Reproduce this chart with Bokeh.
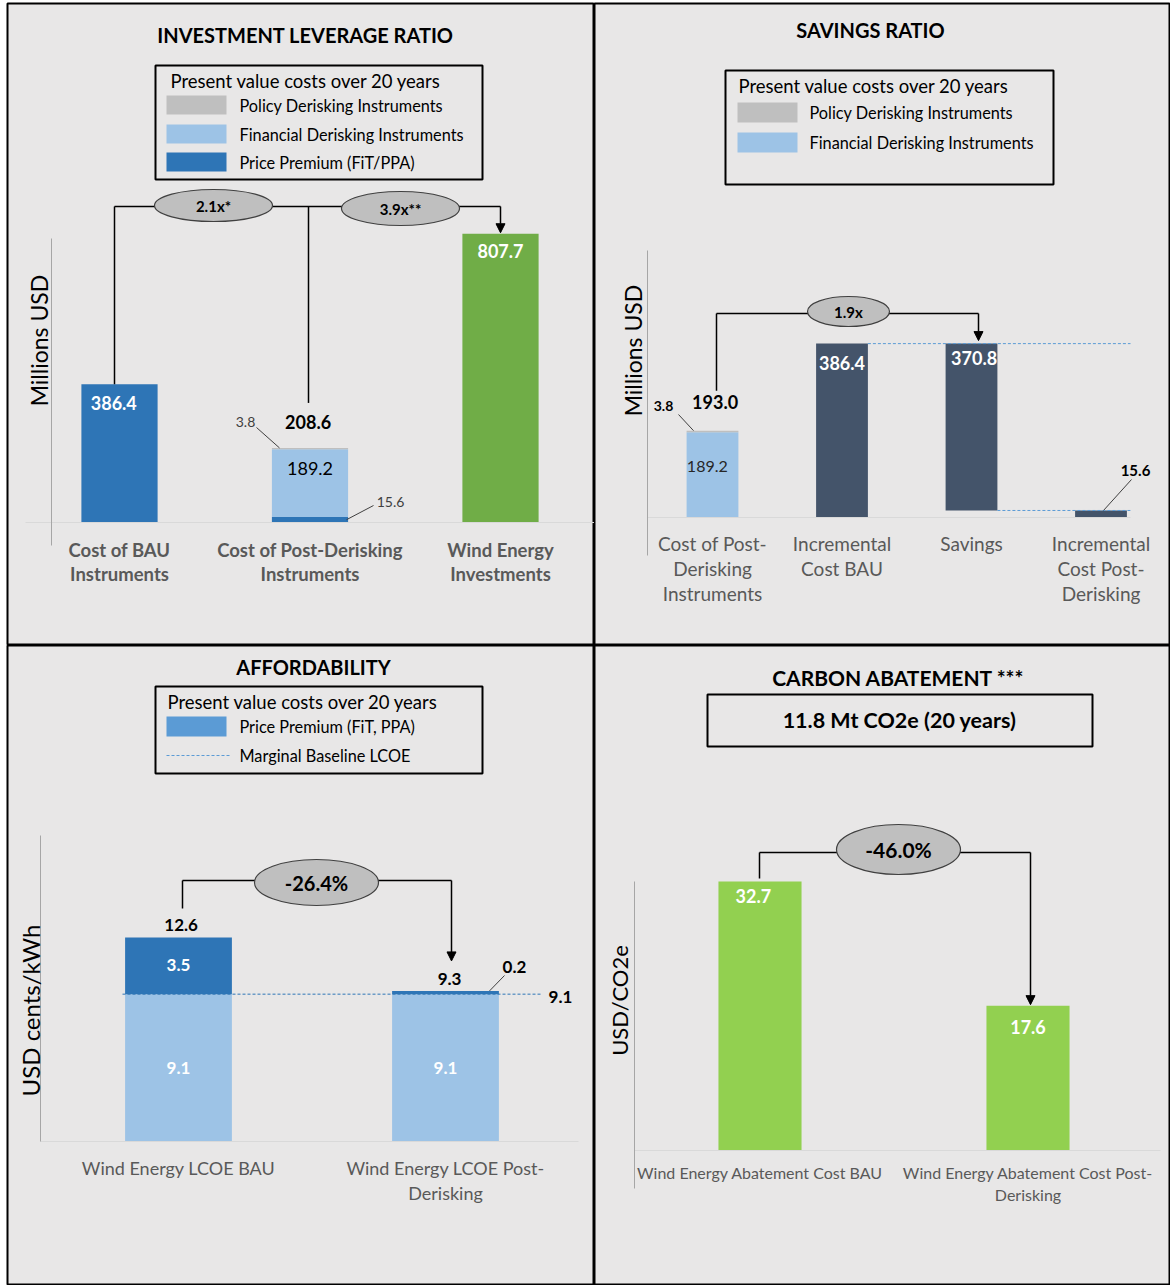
import numpy as np
from math import pi
from bokeh.plotting import figure
from bokeh.layouts import gridplot
from bokeh.models import Range1d, Arrow, NormalHead
from bokeh.core.properties import value
from bokeh.embed import file_html
from bokeh.resources import INLINE

# ---------------- DATA ----------------
# Panel 1: Investment leverage ratio (Millions USD)
p1_categories = [["Cost of BAU", "Instruments"],
                 ["Cost of Post-Derisking", "Instruments"],
                 ["Wind Energy", "Investments"]]
p1_price_premium = [386.4, 15.6, 0.0]
p1_financial = [0.0, 189.2, 0.0]
p1_policy = [0.0, 3.8, 0.0]
p1_investment = [0.0, 0.0, 807.7]
p1_ratios = ["2.1x*", "3.9x**"]
p1_legend = ["Policy Derisking Instruments", "Financial Derisking Instruments", "Price Premium (FiT/PPA)"]

# Panel 2: Savings ratio (Millions USD)
p2_categories = [["Cost of Post-", "Derisking", "Instruments"],
                 ["Incremental", "Cost BAU"],
                 ["Savings"],
                 ["Incremental", "Cost Post-", "Derisking"]]
p2_financial = [189.2]
p2_policy = [3.8]
p2_incremental_bau = 386.4
p2_savings = 370.8
p2_incremental_post = 15.6
p2_ratio = "1.9x"
p2_legend = ["Policy Derisking Instruments", "Financial Derisking Instruments"]

# Panel 3: Affordability (USD cents/kWh)
p3_categories = [["Wind Energy LCOE BAU"], ["Wind Energy LCOE Post-", "Derisking"]]
p3_baseline = [9.1, 9.1]
p3_premium = [3.5, 0.2]
p3_marginal_lcoe = 9.1
p3_change = "-26.4%"
p3_legend = ["Price Premium (FiT, PPA)", "Marginal Baseline LCOE"]

# Panel 4: Carbon abatement (USD/CO2e)
p4_categories = [["Wind Energy Abatement Cost BAU"], ["Wind Energy Abatement Cost Post-", "Derisking"]]
p4_values = [32.7, 17.6]
p4_change = "-46.0%"
p4_total = "11.8 Mt CO2e (20 years)"

# ---------------- STYLE ----------------
FONT = "Lato"
BG = "#E8E7E7"
DARK_BLUE = "#2E75B6"
LIGHT_BLUE = "#9DC3E6"
MID_BLUE = "#5B9BD5"
GRAY = "#BFBFBF"
GREEN = "#70AD47"
LIME = "#92D050"
NAVY = "#44546A"
LABEL_GRAY = "#595959"
AXIS_GRAY = "#A6A6A6"
TITLE_SIZE = 20
HEADER_SIZE = 18.5
LEGEND_SIZE = 16.3


class Frame:
    """Maps page pixels to the data space of one panel."""
    def __init__(self, left, top, fw, fh, cx0, dx, base, ppu):
        self.cx0, self.dx, self.base, self.ppu = cx0, dx, base, ppu
        self.xr = (self.X(left), self.X(left + fw))
        self.yr = (self.Y(top + fh), self.Y(top))

    def X(self, px):
        return (px - self.cx0) / self.dx

    def Y(self, py):
        return (self.base - py) / self.ppu

    def W(self, w):
        return w / self.dx

    def H(self, h):
        return h / self.ppu


def make_fig(fr, width, height, bl, bt):
    p = figure(width=width, height=height, x_range=Range1d(*fr.xr), y_range=Range1d(*fr.yr),
               output_backend="svg", toolbar_location=None, x_axis_type=None, y_axis_type=None,
               min_border=0)
    p.min_border_left = bl
    p.min_border_top = bt
    p.background_fill_color = BG
    p.border_fill_color = "white"
    p.outline_line_color = "black"
    p.outline_line_width = 2
    return p


def txt(p, x, y, s, size, color="black", bold=False, align="center", angle=0.0, baseline="middle"):
    p.text(x=[x], y=[y], text=[s], text_font=value(FONT), text_font_size=f"{size}px",
           text_font_style="bold" if bold else "normal", text_color=color,
           text_align=align, text_baseline=baseline, angle=angle)


def seg(p, x0, y0, x1, y1, color="black", width=1.5, dash="solid"):
    p.segment(x0=[x0], y0=[y0], x1=[x1], y1=[y1], line_color=color, line_width=width, line_dash=dash)


def box(p, fr, l, t, r, b, fill=None, line="black", lw=2):
    p.quad(left=[fr.X(l)], right=[fr.X(r)], top=[fr.Y(t)], bottom=[fr.Y(b)],
           fill_color=fill, line_color=line, line_width=lw)


def arrow(p, x0, y0, x1, y1):
    p.add_layout(Arrow(end=NormalHead(size=9, fill_color="black", line_color="black"),
                       x_start=x0, y_start=y0, x_end=x1, y_end=y1,
                       line_color="black", line_width=1.5))


def ellipse_label(p, fr, cx, cy, w, h, s, size):
    p.ellipse(x=[fr.X(cx)], y=[fr.Y(cy)], width=[fr.W(w)], height=[fr.H(h)],
              fill_color=GRAY, line_color="#404040", line_width=1.2)
    txt(p, fr.X(cx), fr.Y(cy), s, size, bold=True)


def categories(p, fr, cats, ys, size, bold=False):
    for i, lines in enumerate(cats):
        for j, line in enumerate(lines):
            txt(p, i, fr.Y(ys[j]), line, size, color=LABEL_GRAY, bold=bold)


# ================= PANEL 1 =================
fr1 = Frame(left=7, top=3, fw=587, fh=642, cx0=119, dx=190.5, base=522, ppu=0.3575)
p1 = make_fig(fr1, 594, 645, 7, 3)
x1 = np.arange(len(p1_categories))
pp = np.array(p1_price_premium)
fin = np.array(p1_financial)
pol = np.array(p1_policy)
inv = np.array(p1_investment)
bw1 = 0.4
p1.vbar(x=x1, bottom=0, top=pp, width=bw1, fill_color=DARK_BLUE, line_color=None)
p1.vbar(x=x1, bottom=pp, top=pp + fin, width=bw1, fill_color=LIGHT_BLUE, line_color=None)
p1.vbar(x=x1, bottom=pp + fin, top=pp + fin + pol, width=bw1, fill_color=GRAY, line_color=None)
p1.vbar(x=x1, bottom=0, top=inv, width=bw1, fill_color=GREEN, line_color=None)
# axis lines
seg(p1, fr1.X(25), 0, fr1.X(594), 0, color="#D9D9D9", width=1)
seg(p1, fr1.X(51), fr1.Y(238), fr1.X(51), fr1.Y(545), color=AXIS_GRAY, width=1)
txt(p1, fr1.X(38), fr1.Y(340), "Millions USD", 23, angle=pi / 2)
# title & legend
txt(p1, fr1.X(305), fr1.Y(34), "INVESTMENT LEVERAGE RATIO", TITLE_SIZE, bold=True)
box(p1, fr1, 155, 65, 482, 179)
txt(p1, fr1.X(170), fr1.Y(80), "Present value costs over 20 years", HEADER_SIZE, align="left")
for (t, b, c), lab in zip([(95, 114, GRAY), (124, 143, LIGHT_BLUE), (152, 171, DARK_BLUE)], p1_legend):
    box(p1, fr1, 166, t, 226, b, fill=c, line=None, lw=0)
    txt(p1, fr1.X(239), fr1.Y((t + b) / 2), lab, LEGEND_SIZE, align="left")
# connectors
top_bau = pp[0] + fin[0] + pol[0]
top_post = pp[1] + fin[1] + pol[1]
ytop1 = fr1.Y(206)
seg(p1, fr1.X(114), top_bau, fr1.X(114), ytop1)
seg(p1, fr1.X(308), ytop1, fr1.X(308), top_post + fr1.H(45))
seg(p1, fr1.X(114), ytop1, fr1.X(500), ytop1)
arrow(p1, fr1.X(500), ytop1, fr1.X(500), inv[2] + fr1.H(1))
ellipse_label(p1, fr1, 213, 205, 118, 32, p1_ratios[0], 15)
ellipse_label(p1, fr1, 400, 208, 118, 34, p1_ratios[1], 15)
# value labels
txt(p1, x1[0] - 0.03, top_bau - fr1.H(19), f"{pp[0]:.1f}", 18, color="white", bold=True)
txt(p1, x1[2], inv[2] - fr1.H(17), f"{inv[2]:.1f}", 18, color="white", bold=True)
txt(p1, x1[1], pp[1] + fin[1] - fr1.H(19), f"{fin[1]:.1f}", 18)
txt(p1, x1[1] - 0.01, top_post + fr1.H(26), f"{top_post:.1f}", 18, bold=True)
txt(p1, fr1.X(245), fr1.Y(421), f"{pol[1]:.1f}", 14, color="#404040")
seg(p1, fr1.X(256), fr1.Y(427), fr1.X(279), top_post, color="#404040", width=1)
txt(p1, fr1.X(390), fr1.Y(501), f"{pp[1]:.1f}", 14, color="#404040")
seg(p1, fr1.X(346), pp[1] / 2, fr1.X(373), fr1.Y(505), color="#404040", width=1)
categories(p1, fr1, p1_categories, [549, 573], 18.5, bold=True)

# ================= PANEL 2 =================
fr2 = Frame(left=594, top=3, fw=576, fh=642, cx0=712, dx=129.5, base=517, ppu=0.45)
p2 = make_fig(fr2, 576, 645, 0, 3)
bw2 = 0.4
f2 = np.array(p2_financial)
po2 = np.array(p2_policy)
p2.vbar(x=[0], bottom=0, top=f2, width=bw2, fill_color=LIGHT_BLUE, line_color=None)
p2.vbar(x=[0], bottom=f2, top=f2 + po2, width=bw2, fill_color=GRAY, line_color=None)
navy_x = [1, 2, 3]
navy_bottom = [0.0, p2_incremental_post, 0.0]
navy_top = [p2_incremental_bau, p2_incremental_post + p2_savings, p2_incremental_post]
p2.vbar(x=navy_x, bottom=navy_bottom, top=navy_top, width=bw2, fill_color=NAVY, line_color=None)
# dotted guides
seg(p2, 1 + bw2 / 2, p2_incremental_bau, fr2.X(1130), p2_incremental_bau, color=MID_BLUE, width=1, dash="3 2")
seg(p2, 2 + bw2 / 2, p2_incremental_post, fr2.X(1130), p2_incremental_post, color=MID_BLUE, width=1, dash="3 2")
# axes
seg(p2, fr2.X(647), 0, fr2.X(1130), 0, color="#D9D9D9", width=1)
seg(p2, fr2.X(647), fr2.Y(250), fr2.X(647), fr2.Y(555), color=AXIS_GRAY, width=1)
txt(p2, fr2.X(632), fr2.Y(350), "Millions USD", 23, angle=pi / 2)
# title & legend
txt(p2, fr2.X(870), fr2.Y(29), "SAVINGS RATIO", TITLE_SIZE, bold=True)
box(p2, fr2, 725, 70, 1053, 184)
txt(p2, fr2.X(738), fr2.Y(85), "Present value costs over 20 years", HEADER_SIZE, align="left")
for (t, b, c), lab in zip([(102, 122, GRAY), (132, 152, LIGHT_BLUE)], p2_legend):
    box(p2, fr2, 737, t, 797, b, fill=c, line=None, lw=0)
    txt(p2, fr2.X(809), fr2.Y((t + b) / 2), lab, LEGEND_SIZE, align="left")
# connector
tot2 = f2[0] + po2[0]
ytop2 = fr2.Y(313)
seg(p2, fr2.X(716), tot2 + fr2.H(40), fr2.X(716), ytop2)
seg(p2, fr2.X(716), ytop2, fr2.X(978), ytop2)
arrow(p2, fr2.X(978), ytop2, fr2.X(978), p2_incremental_bau + fr2.H(3))
ellipse_label(p2, fr2, 848, 311, 82, 30, p2_ratio, 15)
# value labels
txt(p2, 0.02, tot2 + fr2.H(29), f"{tot2:.1f}", 18, bold=True)
txt(p2, fr2.X(663), fr2.Y(405), f"{po2[0]:.1f}", 14, bold=True)
seg(p2, fr2.X(678), fr2.Y(414), fr2.X(693), tot2, color="#404040", width=1)
txt(p2, -0.04, f2[0] - fr2.H(34), f"{f2[0]:.1f}", 16, color="#262626")
txt(p2, 1, p2_incremental_bau - fr2.H(19), f"{p2_incremental_bau:.1f}", 18, color="white", bold=True)
txt(p2, 2.02, p2_incremental_post + p2_savings - fr2.H(14), f"{p2_savings:.1f}", 18, color="white", bold=True)
txt(p2, fr2.X(1135), fr2.Y(470), f"{p2_incremental_post:.1f}", 15, bold=True)
seg(p2, fr2.X(1131), fr2.Y(479), fr2.X(1103), p2_incremental_post, color="#404040", width=1)
categories(p2, fr2, p2_categories, [543, 568, 593], 19)

# ================= PANEL 3 =================
fr3 = Frame(left=7, top=645, fw=587, fh=640, cx0=178, dx=267, base=1141, ppu=16.19)
p3 = make_fig(fr3, 594, 640, 7, 0)
x3 = np.arange(len(p3_categories))
b3 = np.array(p3_baseline)
pr3 = np.array(p3_premium)
bw3 = 0.4
p3.vbar(x=x3, bottom=0, top=b3, width=bw3, fill_color=LIGHT_BLUE, line_color=None)
p3.vbar(x=x3, bottom=b3, top=b3 + pr3, width=bw3, fill_color=DARK_BLUE, line_color=None)
seg(p3, fr3.X(122), p3_marginal_lcoe, fr3.X(540), p3_marginal_lcoe, color=DARK_BLUE, width=1, dash="3 2")
txt(p3, fr3.X(560), p3_marginal_lcoe - fr3.H(3), f"{p3_marginal_lcoe:.1f}", 17, bold=True)
# axes
seg(p3, fr3.X(40), 0, fr3.X(578), 0, color="#D9D9D9", width=1)
seg(p3, fr3.X(40), fr3.Y(835), fr3.X(40), fr3.Y(1141), color=AXIS_GRAY, width=1)
txt(p3, fr3.X(30), fr3.Y(1010), "USD cents/kWh", 24, angle=pi / 2)
# title & legend
txt(p3, fr3.X(313), fr3.Y(666), "AFFORDABILITY", TITLE_SIZE, bold=True)
box(p3, fr3, 155, 686, 482, 773)
txt(p3, fr3.X(167), fr3.Y(701), "Present value costs over 20 years", HEADER_SIZE, align="left")
box(p3, fr3, 166, 716, 226, 736, fill=MID_BLUE, line=None, lw=0)
txt(p3, fr3.X(239), fr3.Y(726), p3_legend[0], LEGEND_SIZE, align="left")
seg(p3, fr3.X(166), fr3.Y(755), fr3.X(230), fr3.Y(755), color=MID_BLUE, width=1.2, dash="3 2")
txt(p3, fr3.X(239), fr3.Y(755), p3_legend[1], LEGEND_SIZE, align="left")
# connector
tot3 = b3 + pr3
ytop3 = fr3.Y(880)
seg(p3, fr3.X(182), tot3[0] + fr3.H(29), fr3.X(182), ytop3)
seg(p3, fr3.X(182), ytop3, fr3.X(451), ytop3)
arrow(p3, fr3.X(451), ytop3, fr3.X(451), tot3[1] + fr3.H(30))
ellipse_label(p3, fr3, 316, 882, 124, 46, p3_change, 20)
# value labels
txt(p3, 0.01, tot3[0] + fr3.H(13), f"{tot3[0]:.1f}", 17, bold=True)
txt(p3, 1.015, tot3[1] + fr3.H(12), f"{tot3[1]:.1f}", 17, bold=True)
for i in x3:
    txt(p3, i, b3[i] / 2, f"{b3[i]:.1f}", 17, color="white", bold=True)
txt(p3, 0, b3[0] + pr3[0] / 2 + fr3.H(1), f"{pr3[0]:.1f}", 17, color="white", bold=True)
txt(p3, fr3.X(514), fr3.Y(966), f"{pr3[1]:.1f}", 17, bold=True)
seg(p3, fr3.X(489), tot3[1], fr3.X(504), fr3.Y(975), color="#404040", width=1)
categories(p3, fr3, p3_categories, [1167, 1192], 18)

# ================= PANEL 4 =================
fr4 = Frame(left=594, top=645, fw=576, fh=640, cx0=759.5, dx=268, base=1150, ppu=8.23)
p4 = make_fig(fr4, 576, 640, 0, 0)
x4 = np.arange(len(p4_values))
v4 = np.array(p4_values)
p4.vbar(x=x4, bottom=0, top=v4, width=0.31, fill_color=LIME, line_color=None)
# axes
seg(p4, fr4.X(634), 0, fr4.X(1160), 0, color="#D9D9D9", width=1)
seg(p4, fr4.X(634), fr4.Y(881), fr4.X(634), fr4.Y(1188), color=AXIS_GRAY, width=1)
txt(p4, fr4.X(619), fr4.Y(1000), "USD/CO2e", 22, angle=pi / 2)
# title & box
txt(p4, fr4.X(898), fr4.Y(677), "CARBON ABATEMENT ***", 21, bold=True)
box(p4, fr4, 707, 694, 1092, 746)
txt(p4, fr4.X(899), fr4.Y(719), p4_total, 21.5, bold=True)
# connector
ytop4 = fr4.Y(852)
seg(p4, fr4.X(759), v4[0] + fr4.H(3), fr4.X(759), ytop4)
seg(p4, fr4.X(759), ytop4, fr4.X(1030), ytop4)
arrow(p4, fr4.X(1030), ytop4, fr4.X(1030), v4[1] + fr4.H(1))
ellipse_label(p4, fr4, 898, 849, 124, 50, p4_change, 21)
# value labels
txt(p4, x4[0] - 0.025, v4[0] - fr4.H(15), f"{v4[0]:.1f}", 18, color="white", bold=True)
txt(p4, x4[1], v4[1] - fr4.H(21), f"{v4[1]:.1f}", 18, color="white", bold=True)
categories(p4, fr4, p4_categories, [1172, 1194], 16)

grid = gridplot([[p1, p2], [p3, p4]], toolbar_location=None)
open("out.html", "w").write(file_html(grid, INLINE))
